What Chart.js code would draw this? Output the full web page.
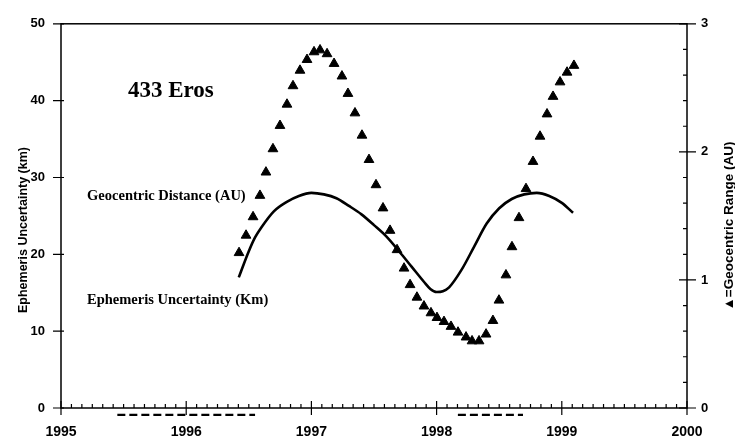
<!DOCTYPE html>
<html>
<head>
<meta charset="utf-8">
<script src="https://cdn.jsdelivr.net/npm/chart.js@4"></script>
<style>
  body { margin: 0; background: #fff; }
  #wrap { width: 735px; height: 444px; }
</style>
</head>
<body>
<div id="wrap"><canvas id="myChart"></canvas></div>
<script>
// geocentric range (triangles, right axis, AU)
var rangeYears = [1996.422, 1996.478, 1996.534, 1996.589, 1996.637, 1996.693, 1996.749, 1996.805, 1996.853, 1996.909,
                  1996.965, 1997.021, 1997.069, 1997.125, 1997.181, 1997.244, 1997.292, 1997.348, 1997.404, 1997.460,
                  1997.516, 1997.572, 1997.628, 1997.684, 1997.740, 1997.788, 1997.843, 1997.899, 1997.955, 1998.003,
                  1998.059, 1998.115, 1998.171, 1998.235, 1998.283, 1998.339, 1998.395, 1998.450, 1998.498, 1998.554,
                  1998.602, 1998.658, 1998.714, 1998.770, 1998.826, 1998.882, 1998.930, 1998.986, 1999.042, 1999.097];
var rangeAU = [1.212, 1.348, 1.492, 1.659, 1.841, 2.023, 2.205, 2.371, 2.515, 2.636,
               2.720, 2.780, 2.795, 2.765, 2.689, 2.591, 2.455, 2.303, 2.129, 1.939,
               1.742, 1.561, 1.386, 1.235, 1.091, 0.962, 0.864, 0.795, 0.742, 0.705,
               0.674, 0.636, 0.591, 0.553, 0.523, 0.523, 0.576, 0.682, 0.841, 1.038,
               1.258, 1.485, 1.712, 1.924, 2.121, 2.295, 2.432, 2.545, 2.621, 2.674];

// ephemeris uncertainty (solid line, left axis, km)
var uncYears = [1996.42, 1996.50, 1996.55, 1996.60, 1996.70, 1996.80, 1996.90, 1997.00, 1997.10, 1997.20,
                1997.30, 1997.40, 1997.50, 1997.60, 1997.70, 1997.80, 1997.90, 1997.95, 1998.00, 1998.05,
                1998.10, 1998.20, 1998.30, 1998.40, 1998.50, 1998.60, 1998.70, 1998.80, 1998.90, 1999.00, 1999.09];
var uncKm = [17.0, 20.4, 22.2, 23.5, 25.6, 26.8, 27.6, 28.0, 27.8, 27.3,
             26.3, 25.2, 23.8, 22.3, 20.4, 18.4, 16.4, 15.5, 15.1, 15.2,
             15.7, 18.0, 21.0, 24.0, 26.0, 27.2, 27.8, 28.0, 27.6, 26.7, 25.4];

// dashed periods under the time axis
var dashA = [1995.45, 1996.55];
var dashB = [1998.17, 1998.69];

var xTickLabels = ['1995', '1996', '1997', '1998', '1999', '2000'];
var leftTickLabels = ['0', '10', '20', '30', '40', '50'];
var rightTickLabels = ['0', '1', '2', '3'];

function pts(xs, ys) {
  return xs.map(function (x, i) { return { x: x, y: ys[i] }; });
}

var tickFont = { family: 'Liberation Sans, Arial, sans-serif', weight: 'bold', size: 13 };

// frame, crossing major ticks, small inward minor ticks, notes and axis titles
var decorPlugin = {
  id: 'decor',
  afterDraw: function (chart) {
    var ctx = chart.ctx, a = chart.chartArea;
    var sx = chart.scales.x, sy = chart.scales.y, sr = chart.scales.y1;
    ctx.save();
    ctx.strokeStyle = '#000';
    ctx.lineWidth = 1.5;
    ctx.strokeRect(a.left, a.top, a.right - a.left, a.bottom - a.top);

    ctx.lineWidth = 1.2;
    ctx.beginPath();
    for (var m = 0; m <= 60; m++) {
      var px = sx.getPixelForValue(1995 + m / 12);
      if (m % 12 === 0) { ctx.moveTo(px, a.bottom - 7); ctx.lineTo(px, a.bottom + 7); }
      else { ctx.moveTo(px, a.bottom); ctx.lineTo(px, a.bottom - 4); }
    }
    for (var k = 0; k <= 50; k += 10) {
      var py = sy.getPixelForValue(k);
      ctx.moveTo(a.left - 8, py); ctx.lineTo(a.left + 3, py);
    }
    for (var j = 0; j <= 15; j++) {
      var pr = sr.getPixelForValue(j / 5);
      if (j % 5 === 0) { ctx.moveTo(a.right - 8, pr); ctx.lineTo(a.right + 9, pr); }
      else { ctx.moveTo(a.right, pr); ctx.lineTo(a.right - 4, pr); }
    }
    ctx.stroke();

    // notes inside the plot
    ctx.fillStyle = '#000';
    ctx.textBaseline = 'middle';
    ctx.textAlign = 'left';
    ctx.font = 'bold 23px "Liberation Serif", "Times New Roman", serif';
    ctx.fillText('433 Eros', sx.getPixelForValue(1995.535), sy.getPixelForValue(41.3));
    ctx.font = 'bold 14.5px "Liberation Serif", "Times New Roman", serif';
    ctx.fillText('Geocentric Distance (AU)', sx.getPixelForValue(1995.208), sy.getPixelForValue(27.6));
    ctx.fillText('Ephemeris Uncertainty (Km)', sx.getPixelForValue(1995.208), sy.getPixelForValue(14.0));

    // axis titles, both reading upward
    ctx.textAlign = 'center';
    ctx.save();
    ctx.translate(24, 230);
    ctx.rotate(-Math.PI / 2);
    ctx.font = 'bold 12.5px "Liberation Sans", Arial, sans-serif';
    ctx.fillText('Ephemeris Uncertainty (km)', 0, 0);
    ctx.restore();

    ctx.translate(729, 226);
    ctx.rotate(-Math.PI / 2);
    ctx.font = 'bold 13.5px "Liberation Sans", Arial, sans-serif';
    ctx.fillText('\u25B2=Geocentric Range (AU)', 0, 0);
    ctx.restore();
  }
};

var config = {
  type: 'scatter',
  data: {
    datasets: [
      {
        label: 'Geocentric Range',
        data: pts(rangeYears, rangeAU),
        yAxisID: 'y1',
        showLine: false,
        pointStyle: 'triangle',
        pointRadius: 5.6,
        pointBackgroundColor: '#000',
        pointBorderColor: '#000',
        pointBorderWidth: 1
      },
      {
        label: 'Ephemeris Uncertainty',
        data: pts(uncYears, uncKm),
        yAxisID: 'y',
        showLine: true,
        borderColor: '#000',
        borderWidth: 2.6,
        pointRadius: 0,
        cubicInterpolationMode: 'monotone'
      },
      {
        label: 'dashA',
        data: pts(dashA, [-0.9, -0.9]),
        yAxisID: 'y',
        showLine: true,
        borderColor: '#000',
        borderWidth: 2.2,
        borderDash: [8, 4],
        pointRadius: 0,
        clip: false
      },
      {
        label: 'dashB',
        data: pts(dashB, [-0.9, -0.9]),
        yAxisID: 'y',
        showLine: true,
        borderColor: '#000',
        borderWidth: 2.2,
        borderDash: [8, 4],
        pointRadius: 0,
        clip: false
      }
    ]
  },
  options: {
    responsive: true,
    maintainAspectRatio: false,
    animation: false,
    layout: { padding: { top: 11, left: 0, right: 0, bottom: 0 } },
    plugins: { legend: { display: false }, tooltip: { enabled: false } },
    scales: {
      x: {
        type: 'linear',
        min: 1995, max: 2000,
        grid: { display: false, drawTicks: false },
        border: { display: false },
        ticks: {
          stepSize: 1, padding: 16, color: '#000', maxRotation: 0,
          font: { family: tickFont.family, weight: 'bold', size: 14 },
          callback: function (v, i) { return xTickLabels[i]; }
        },
        afterFit: function (s) { s.height = 36; }
      },
      y: {
        position: 'left',
        min: 0, max: 50,
        grid: { display: false, drawTicks: false },
        border: { display: false },
        ticks: {
          stepSize: 10, padding: 16, color: '#000', font: tickFont,
          callback: function (v, i) { return leftTickLabels[i]; }
        },
        afterFit: function (s) { s.width = 61; }
      },
      y1: {
        position: 'right',
        min: 0, max: 3,
        grid: { display: false, drawTicks: false },
        border: { display: false },
        ticks: {
          stepSize: 1, padding: 14, color: '#000', font: tickFont,
          callback: function (v, i) { return rightTickLabels[i]; }
        },
        afterFit: function (s) { s.width = 48; }
      }
    }
  },
  plugins: [decorPlugin]
};

var myChart = new Chart(document.getElementById('myChart'), config);
</script>
</body>
</html>
